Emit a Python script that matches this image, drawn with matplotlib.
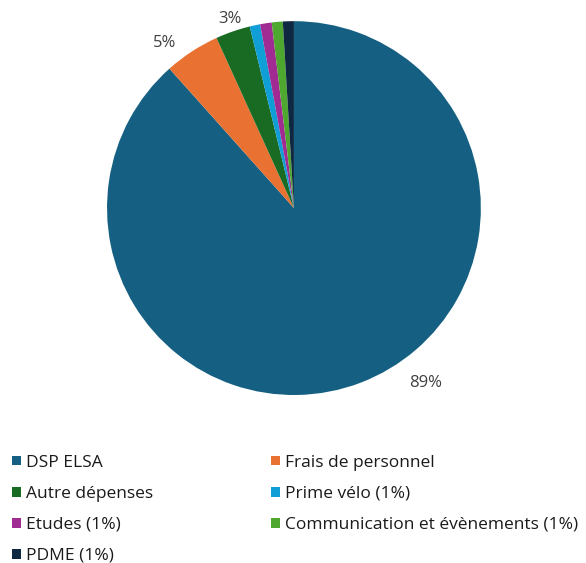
import matplotlib
matplotlib.use("Agg")
import matplotlib.pyplot as plt
from matplotlib.patches import Patch
import numpy as np

categories = ["DSP ELSA", "Frais de personnel", "Autre dépenses", "Prime vélo (1%)",
              "Etudes (1%)", "Communication et évènements (1%)", "PDME (1%)"]
values = [88.4, 4.8, 3.0, 0.9, 1.0, 0.95, 0.95]
pct_labels = ["89%", "5%", "3%", "", "", "", ""]
colors = ["#156082", "#E97132", "#196B24", "#0F9ED5", "#A02B93", "#4EA72E", "#0E2841"]

plt.rcParams['font.family'] = ['Open Sans', 'DejaVu Sans']

fig = plt.figure(figsize=(5.86, 5.63), dpi=100)
ax = fig.add_axes([0.1826, 0.2984, 0.638, 0.664])
wedges, texts = ax.pie(values, colors=colors, startangle=90, counterclock=False,
                       labels=pct_labels, labeldistance=1.1,
                       textprops=dict(color="#404040", fontsize=12),
                       wedgeprops=dict(linewidth=0))
ax.set_aspect('equal')
ax.set_xlim(-1, 1)
ax.set_ylim(-1, 1)
ang = np.deg2rad(-53)
texts[0].set_position((1.17 * np.cos(ang), 1.17 * np.sin(ang)))
for t in texts[:3]:
    t.set_ha('center'); t.set_va('center')
ang1 = np.deg2rad(128)
texts[1].set_position((1.12 * np.cos(ang1), 1.12 * np.sin(ang1)))
ang2 = np.deg2rad(108.6)
texts[2].set_position((1.07 * np.cos(ang2), 1.07 * np.sin(ang2)))

order = [0, 2, 4, 6, 1, 3, 5]
handles = [Patch(facecolor=colors[i], edgecolor='none') for i in order]
labels = [categories[i] for i in order]
leg = fig.legend(handles, labels, ncol=2, loc='upper left', bbox_to_anchor=(0.0, 0.214),
                 frameon=False, fontsize=12.5, handlelength=0.5, handleheight=0.5,
                 handletextpad=0.3, labelspacing=0.87, columnspacing=6.8,
                 labelcolor="#1a1a1a", borderpad=0.2)
fig.savefig("out.png", dpi=100)
